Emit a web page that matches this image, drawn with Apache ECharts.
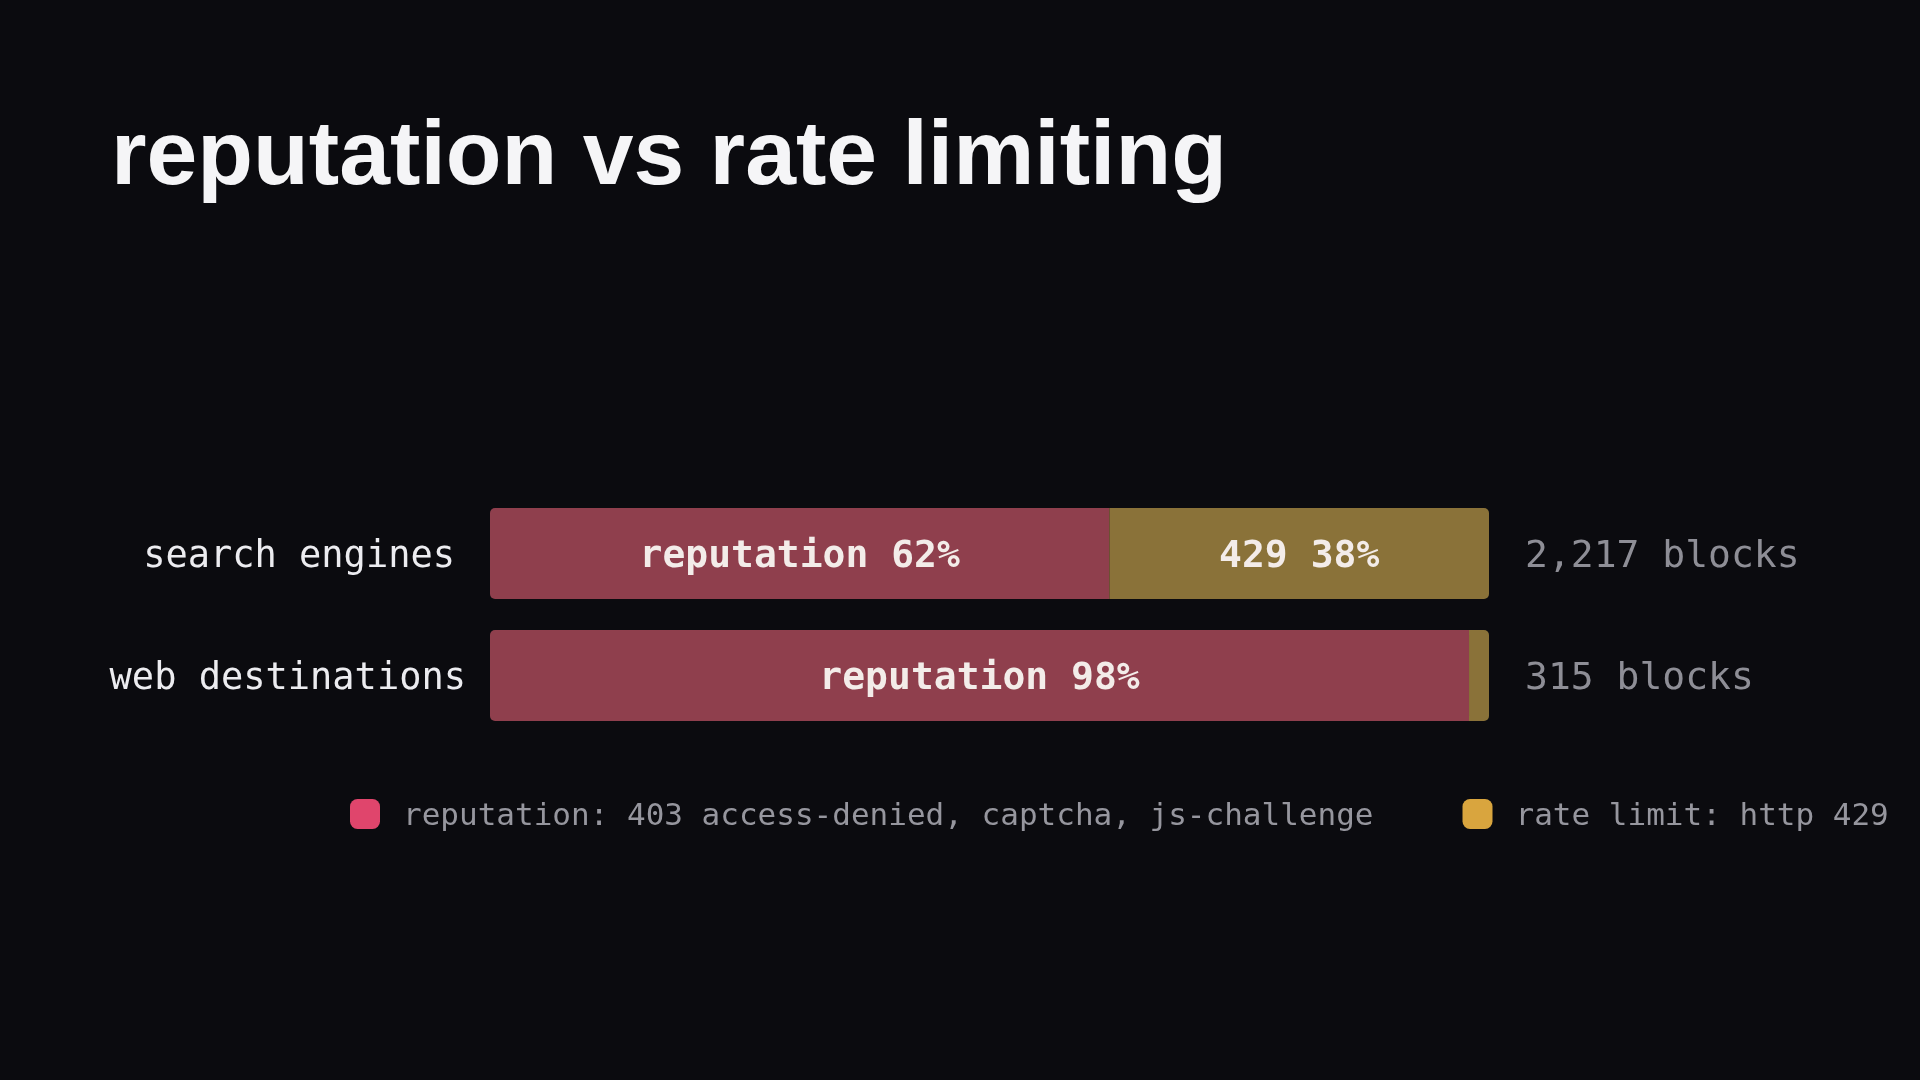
<!DOCTYPE html>
<html><head><meta charset="utf-8">
<script src="https://cdn.jsdelivr.net/npm/echarts@6/dist/echarts.min.js"></script>
<style>html,body{margin:0;padding:0;background:#0b0b0f;}#c{width:1920px;height:1080px;}</style>
</head><body><div id="c"></div>
<script>
const titleText = 'reputation vs rate limiting';
const categories = ['search engines', 'web destinations'];
const reputationPct = [62, 98];
const rateLimitPct = [38, 2];
const totalBlocks = [2217, 315];
const seriesNames = ['reputation: 403 access-denied, captcha, js-challenge', 'rate limit: http 429'];
const segmentPrefix = ['reputation', '429'];

const MONO = '"DejaVu Sans Mono", monospace';
const chart = echarts.init(document.getElementById('c'), null, {renderer: 'canvas'});
const totalLabels = totalBlocks.map(v => v.toLocaleString('en-US') + ' blocks');

chart.setOption({
  backgroundColor: '#0b0b0f',
  animation: false,
  title: {
    text: titleText,
    left: 111, top: 113,
    padding: 0,
    textStyle: {fontFamily: '"Liberation Sans", Arial, sans-serif', fontWeight: 'bold', fontSize: 91.3, color: '#f5f5f7'}
  },
  legend: {
    left: 350, top: 799, padding: 0,
    itemWidth: 30, itemHeight: 30, itemGap: 89,
    icon: 'roundRect',
    data: [
      {name: seriesNames[0], itemStyle: {color: '#e0456c'}},
      {name: seriesNames[1], itemStyle: {color: '#d9a53e'}}
    ],
    formatter: name => '{n|' + name + '}',
    textStyle: {
      fontFamily: MONO, fontSize: 31, color: '#96969e',
      rich: {n: {fontFamily: MONO, fontSize: 31, color: '#96969e', padding: [5, 0, 0, 18]}}
    }
  },
  grid: {left: 490, right: 431, top: 492.5, bottom: 343.5, containLabel: false},
  xAxis: {type: 'value', min: 0, max: 100, show: false},
  yAxis: [
    {
      type: 'category', data: categories, inverse: true,
      axisLine: {show: false}, axisTick: {show: false}, splitLine: {show: false},
      axisLabel: {
        margin: 24, color: '#ececf0', fontFamily: MONO, fontSize: 37,
        formatter: (v, i) => i === 0 ? '{a|' + v + '}' : '{b|' + v + '}',
        rich: {
          a: {fontFamily: MONO, fontSize: 37, color: '#ececf0', padding: [7, 11, 0, 0]},
          b: {fontFamily: MONO, fontSize: 37, color: '#ececf0', padding: [7, 0, 0, 0]}
        }
      }
    },
    {
      type: 'category', data: totalLabels, inverse: true, position: 'right',
      axisLine: {show: false}, axisTick: {show: false}, splitLine: {show: false},
      axisLabel: {
        margin: 36, align: 'left', color: '#8e8e96', fontFamily: MONO, fontSize: 38,
        formatter: v => '{t|' + v + '}',
        rich: {t: {fontFamily: MONO, fontSize: 38, color: '#8e8e96', padding: [7, 0, 0, 0]}}
      }
    }
  ],
  series: [
    {
      name: seriesNames[0], type: 'bar', stack: 'total', barWidth: 91,
      data: reputationPct,
      itemStyle: {color: '#8f3f4d', borderRadius: [5, 0, 0, 5]},
      label: {
        show: true, position: 'inside', color: '#f3ece9', offset: [0, 4],
        fontFamily: MONO, fontWeight: 'bold', fontSize: 38,
        formatter: p => p.value >= 10 ? segmentPrefix[0] + ' ' + p.value + '%' : ''
      }
    },
    {
      name: seriesNames[1], type: 'bar', stack: 'total', barWidth: 91,
      data: rateLimitPct,
      itemStyle: {color: '#8a7239', borderRadius: [0, 5, 5, 0]},
      label: {
        show: true, position: 'inside', color: '#f3ece9', offset: [0, 4],
        fontFamily: MONO, fontWeight: 'bold', fontSize: 38,
        formatter: p => p.value >= 10 ? segmentPrefix[1] + ' ' + p.value + '%' : ''
      }
    }
  ]
});
</script>
</body></html>
